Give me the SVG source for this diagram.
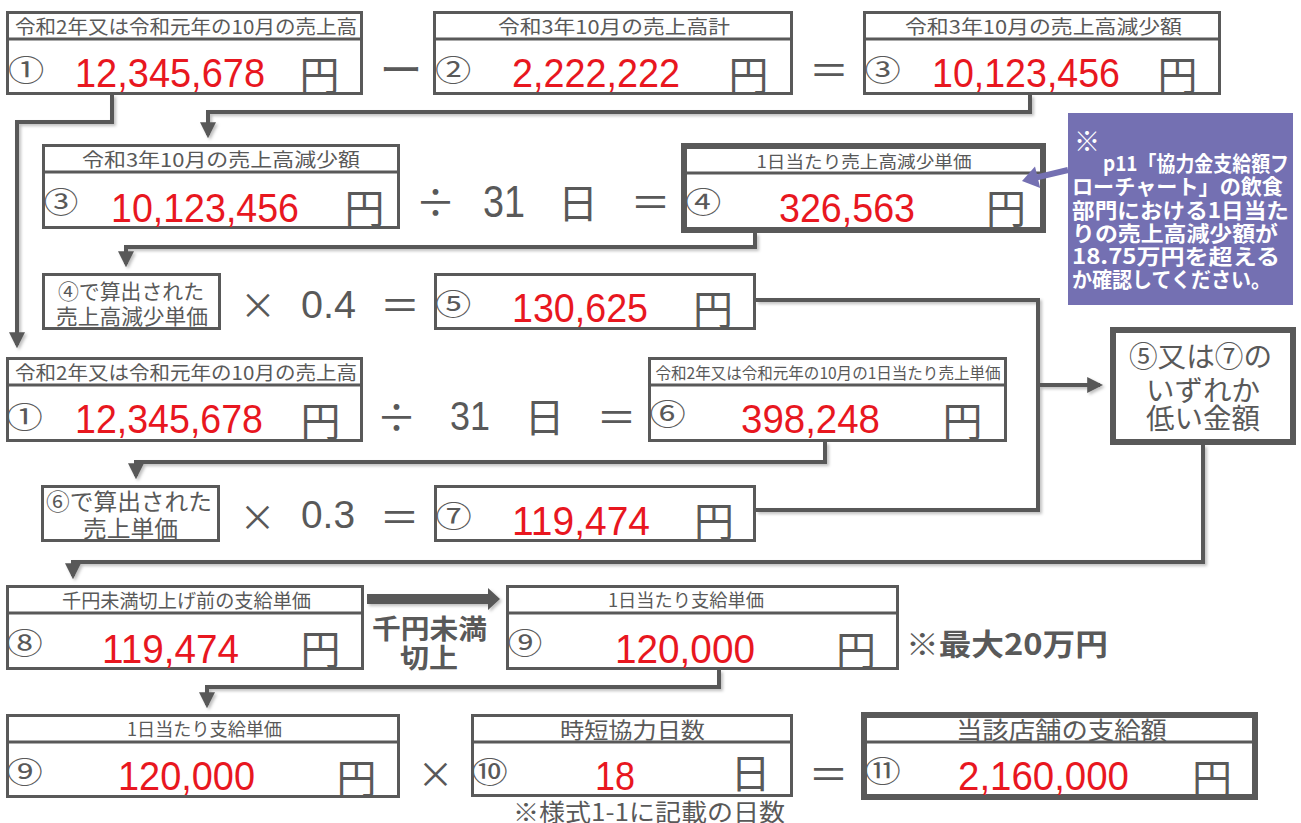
<svg xmlns="http://www.w3.org/2000/svg" width="1301" height="823" viewBox="0 0 1301 823">
<style>
.box{fill:#fff;stroke:#595959;stroke-width:3}
.tbox{fill:#fff;stroke:#595959;stroke-width:6}
.dv{stroke:#595959;stroke-width:3}
.jp{font-family:"Noto Sans CJK JP","Liberation Sans",sans-serif;fill:#595959;text-anchor:middle;dominant-baseline:central}
.hd{font-size:19px}
.circ{font-size:29px}
.yen{font-size:40px}
.op{font-size:40px}
.num{font-family:"Liberation Sans","Noto Sans CJK JP",sans-serif;fill:#E8171F;font-size:41px}
.gnum{font-family:"Liberation Sans","Noto Sans CJK JP",sans-serif;fill:#595959}
.note{font-family:"Noto Sans CJK JP","Liberation Sans",sans-serif;fill:#fff;font-weight:bold;font-size:21px;dominant-baseline:central}
.con{fill:none;stroke:#595959;stroke-width:4}
</style>
<defs>
<marker id="ah" markerWidth="4" markerHeight="4" refX="3.2" refY="2" orient="auto" markerUnits="strokeWidth">
<path d="M0,0 L4,2 L0,4 Z" fill="#595959"/>
</marker>
<filter id="sh" x="-5%" y="-5%" width="110%" height="110%">
<feDropShadow dx="2" dy="2" stdDeviation="1.5" flood-color="#000" flood-opacity="0.25"/>
</filter>
</defs>

<g id="connectors" filter="url(#sh)">
<path class="con" d="M112,95 V122 H17 V345" marker-end="url(#ah)"/>
<path class="con" d="M1030,95 V112 H208 V135" marker-end="url(#ah)"/>
<path class="con" d="M755,233 V247 H126 V264" marker-end="url(#ah)"/>
<path class="con" d="M756,300 H1038 V510 H756"/>
<path class="con" d="M1038,385 H1100" marker-end="url(#ah)"/>
<path class="con" d="M825,442 V462 H136 V476" marker-end="url(#ah)"/>
<path class="con" d="M1203,445 V562 H73 V576" marker-end="url(#ah)"/>
<path class="con" d="M719,670 V687 H207 V705" marker-end="url(#ah)"/>
<path d="M367,594 H488 V588 L500,599 L488,610 V604 H367 Z" fill="#595959"/>
</g>

<g id="n1">
<rect class="box" x="7.5" y="12.5" width="354" height="81"/>
<line class="dv" x1="7.5" y1="39" x2="361.5" y2="39"/>
<text class="jp hd" x="186" y="25" textLength="342" lengthAdjust="spacingAndGlyphs">令和2年又は令和元年の10月の売上高</text>
<text class="jp circ" transform="translate(26,68.5) scale(1.25,1)">①</text>
<text class="num" x="75" y="87" textLength="190" lengthAdjust="spacingAndGlyphs">12,345,678</text>
<text class="jp yen" x="319.5" y="73">円</text>
</g>

<g id="op1"><text class="jp op" x="401" y="67" style="font-size:43px">ー</text></g>

<g id="n2">
<rect class="box" x="434.5" y="12.5" width="357" height="81"/>
<line class="dv" x1="434.5" y1="39" x2="791.5" y2="39"/>
<text class="jp hd" x="614" y="25.5" textLength="232" lengthAdjust="spacingAndGlyphs">令和3年10月の売上高計</text>
<text class="jp circ" transform="translate(453,68) scale(1.25,1)">②</text>
<text class="num" x="512" y="87" textLength="168" lengthAdjust="spacingAndGlyphs">2,222,222</text>
<text class="jp yen" x="748.5" y="73">円</text>
</g>

<g id="op2"><text class="jp op" x="829" y="68">＝</text></g>

<g id="n3">
<rect class="box" x="864.5" y="12.5" width="355" height="81"/>
<line class="dv" x1="864.5" y1="39" x2="1219.5" y2="39"/>
<text class="jp hd" x="1043.5" y="25.5" textLength="277" lengthAdjust="spacingAndGlyphs">令和3年10月の売上高減少額</text>
<text class="jp circ" transform="translate(882.5,68) scale(1.25,1)">③</text>
<text class="num" x="932" y="87" textLength="188" lengthAdjust="spacingAndGlyphs">10,123,456</text>
<text class="jp yen" x="1177.5" y="73">円</text>
</g>

<g id="n3b">
<rect class="box" x="43.5" y="145.5" width="355" height="82"/>
<line class="dv" x1="43.5" y1="172" x2="398.5" y2="172"/>
<text class="jp hd" x="221" y="158.5" textLength="278" lengthAdjust="spacingAndGlyphs">令和3年10月の売上高減少額</text>
<text class="jp circ" transform="translate(61,200) scale(1.2,1)">③</text>
<text class="num" x="111" y="222" textLength="188" lengthAdjust="spacingAndGlyphs">10,123,456</text>
<text class="jp yen" x="364.5" y="206">円</text>
</g>

<g id="op3">
<text class="jp op" x="435.5" y="200">÷</text>
<text class="gnum" x="483" y="217" font-size="44" textLength="42" lengthAdjust="spacingAndGlyphs">31</text>
<text class="jp op" x="578" y="201">日</text>
<text class="jp op" x="650.5" y="200">＝</text>
</g>

<g id="n4">
<rect class="tbox" x="684" y="146" width="359" height="84"/>
<line class="dv" x1="684" y1="173" x2="1043" y2="173"/>
<text class="jp" x="864" y="160.5" font-size="17" textLength="215" lengthAdjust="spacingAndGlyphs">1日当たり売上高減少単価</text>
<text class="jp circ" transform="translate(703,200) scale(1.25,1)">④</text>
<text class="num" x="779" y="222" textLength="136" lengthAdjust="spacingAndGlyphs">326,563</text>
<text class="jp yen" x="1006" y="206">円</text>
</g>

<g id="note">
<rect x="1068" y="113" width="225" height="192" fill="#7470B2"/>
<line x1="1068" y1="170" x2="1036" y2="177.6" stroke="#7470B2" stroke-width="6"/>
<polygon points="1022,181 1040.2,188 1035,166.6" fill="#7470B2"/>
<text class="note" x="1074" y="139" style="font-size:26px">※</text>
<text class="note" x="1103" y="162" textLength="186" lengthAdjust="spacingAndGlyphs">p11「協力金支給額フ</text>
<text class="note" x="1072" y="185" textLength="211" lengthAdjust="spacingAndGlyphs">ローチャート」の飲食</text>
<text class="note" x="1072" y="209" textLength="217" lengthAdjust="spacingAndGlyphs">部門における1日当た</text>
<text class="note" x="1072" y="232" textLength="206" lengthAdjust="spacingAndGlyphs">りの売上高減少額が</text>
<text class="note" x="1072" y="255" textLength="208" lengthAdjust="spacingAndGlyphs">18.75万円を超える</text>
<text class="note" x="1072" y="278" textLength="199" lengthAdjust="spacingAndGlyphs">か確認してください。</text>
</g>

<g id="n4b">
<rect class="box" x="43.5" y="274.5" width="176" height="54"/>
<text class="jp" x="131" y="290" font-size="21" textLength="146" lengthAdjust="spacingAndGlyphs">④で算出された</text>
<text class="jp" x="132" y="315" font-size="21" textLength="152" lengthAdjust="spacingAndGlyphs">売上高減少単価</text>
</g>

<g id="op4">
<text class="jp op" x="258" y="303" style="font-size:36px">×</text>
<text class="gnum" x="301" y="318" font-size="39" textLength="55" lengthAdjust="spacingAndGlyphs">0.4</text>
<text class="jp op" x="400" y="303">＝</text>
</g>

<g id="n5">
<rect class="box" x="435.5" y="274.5" width="319" height="54"/>
<text class="jp circ" transform="translate(453,302) scale(1.25,1)">⑤</text>
<text class="num" x="512" y="322" textLength="136" lengthAdjust="spacingAndGlyphs">130,625</text>
<text class="jp yen" x="713" y="306.5">円</text>
</g>

<g id="n57">
<rect class="tbox" x="1113" y="330" width="180" height="112"/>
<text class="jp" x="1200.5" y="355" font-size="28" textLength="143" lengthAdjust="spacingAndGlyphs">⑤又は⑦の</text>
<text class="jp" x="1203" y="389" font-size="28" textLength="114" lengthAdjust="spacingAndGlyphs">いずれか</text>
<text class="jp" x="1203" y="417" font-size="28" textLength="114" lengthAdjust="spacingAndGlyphs">低い金額</text>
</g>

<g id="n1b">
<rect class="box" x="7.5" y="358.5" width="354" height="82"/>
<line class="dv" x1="7.5" y1="385" x2="361.5" y2="385"/>
<text class="jp hd" x="186" y="371.5" textLength="342" lengthAdjust="spacingAndGlyphs">令和2年又は令和元年の10月の売上高</text>
<text class="jp circ" transform="translate(24.5,415) scale(1.25,1)">①</text>
<text class="num" x="75" y="433" textLength="188" lengthAdjust="spacingAndGlyphs">12,345,678</text>
<text class="jp yen" x="320.5" y="419">円</text>
</g>

<g id="op5">
<text class="jp op" x="396.5" y="415">÷</text>
<text class="gnum" x="450" y="430" font-size="41" textLength="40" lengthAdjust="spacingAndGlyphs">31</text>
<text class="jp op" x="544.5" y="415">日</text>
<text class="jp op" x="616.5" y="415">＝</text>
</g>

<g id="n6">
<rect class="box" x="649.5" y="358.5" width="356" height="82"/>
<line class="dv" x1="649.5" y1="385" x2="1005.5" y2="385"/>
<text class="jp" x="828" y="371.5" font-size="16" textLength="345" lengthAdjust="spacingAndGlyphs">令和2年又は令和元年の10月の1日当たり売上単価</text>
<text class="jp circ" transform="translate(667.5,412) scale(1.25,1)">⑥</text>
<text class="num" x="741" y="433" textLength="139" lengthAdjust="spacingAndGlyphs">398,248</text>
<text class="jp yen" x="962.5" y="419">円</text>
</g>

<g id="n6b">
<rect class="box" x="42.5" y="486.5" width="176" height="54"/>
<text class="jp" x="129" y="500" font-size="23" textLength="166" lengthAdjust="spacingAndGlyphs">⑥で算出された</text>
<text class="jp" x="130.5" y="527" font-size="23" textLength="95" lengthAdjust="spacingAndGlyphs">売上単価</text>
</g>

<g id="op6">
<text class="jp op" x="257.5" y="515" style="font-size:36px">×</text>
<text class="gnum" x="301" y="528" font-size="39" textLength="54" lengthAdjust="spacingAndGlyphs">0.3</text>
<text class="jp op" x="399.5" y="515">＝</text>
</g>

<g id="n7">
<rect class="box" x="435.5" y="486.5" width="319" height="54"/>
<text class="jp circ" transform="translate(453.5,514) scale(1.25,1)">⑦</text>
<text class="num" x="512" y="535" textLength="138" lengthAdjust="spacingAndGlyphs">119,474</text>
<text class="jp yen" x="714" y="519">円</text>
</g>

<g id="n8">
<rect class="box" x="7.5" y="586.5" width="355" height="82"/>
<line class="dv" x1="7.5" y1="613" x2="362.5" y2="613"/>
<text class="jp hd" x="186.5" y="599" textLength="249" lengthAdjust="spacingAndGlyphs">千円未満切上げ前の支給単価</text>
<text class="jp circ" transform="translate(24.5,641) scale(1.25,1)">⑧</text>
<text class="num" x="102" y="663" textLength="137" lengthAdjust="spacingAndGlyphs">119,474</text>
<text class="jp yen" x="320.5" y="647">円</text>
</g>

<g id="roundup">
<text class="jp" x="429.5" y="627" font-size="27" font-weight="bold" textLength="115" lengthAdjust="spacingAndGlyphs">千円未満</text>
<text class="jp" x="429" y="656" font-size="27" font-weight="bold" textLength="58" lengthAdjust="spacingAndGlyphs">切上</text>
</g>

<g id="n9a">
<rect class="box" x="507.5" y="586.5" width="390" height="82"/>
<line class="dv" x1="507.5" y1="613" x2="897.5" y2="613"/>
<text class="jp" x="686" y="599" font-size="18" textLength="156" lengthAdjust="spacingAndGlyphs">1日当たり支給単価</text>
<text class="jp circ" transform="translate(525,641) scale(1.2,1)">⑨</text>
<text class="num" x="615" y="663" textLength="140" lengthAdjust="spacingAndGlyphs">120,000</text>
<text class="jp yen" x="856" y="648">円</text>
</g>

<g id="max"><text class="jp" x="1007" y="642" font-size="30" font-weight="bold" textLength="202" lengthAdjust="spacingAndGlyphs">※最大20万円</text></g>

<g id="n9b">
<rect class="box" x="7.5" y="715.5" width="391" height="81"/>
<line class="dv" x1="7.5" y1="742" x2="398.5" y2="742"/>
<text class="jp" x="204.5" y="728" font-size="18" textLength="155" lengthAdjust="spacingAndGlyphs">1日当たり支給単価</text>
<text class="jp circ" transform="translate(24.5,770) scale(1.25,1)">⑨</text>
<text class="num" x="118" y="790" textLength="137" lengthAdjust="spacingAndGlyphs">120,000</text>
<text class="jp yen" x="356.5" y="776">円</text>
</g>

<g id="op7"><text class="jp op" x="435.5" y="772" style="font-size:36px">×</text></g>

<g id="n10">
<rect class="box" x="472.5" y="715.5" width="319" height="80"/>
<line class="dv" x1="472.5" y1="742" x2="791.5" y2="742"/>
<text class="jp" x="632.5" y="728" font-size="22" textLength="145" lengthAdjust="spacingAndGlyphs">時短協力日数</text>
<text class="jp circ" transform="translate(489.5,770) scale(1.25,1)">⑩</text>
<text class="num" x="595" y="790" textLength="40" lengthAdjust="spacingAndGlyphs">18</text>
<text class="jp yen" x="750.5" y="771">日</text>
</g>

<g id="daysnote"><text class="jp" x="649" y="810" font-size="24" textLength="272" lengthAdjust="spacingAndGlyphs">※様式1-1に記載の日数</text></g>

<g id="op8"><text class="jp op" x="828.5" y="772">＝</text></g>

<g id="n11">
<rect class="tbox" x="864" y="715" width="391" height="82"/>
<line class="dv" x1="864" y1="742" x2="1255" y2="742"/>
<text class="jp" x="1061.5" y="728" font-size="24" textLength="211" lengthAdjust="spacingAndGlyphs">当該店舗の支給額</text>
<text class="jp circ" transform="translate(882.5,769) scale(1.25,1)">⑪</text>
<text class="num" x="958" y="790" textLength="171" lengthAdjust="spacingAndGlyphs">2,160,000</text>
<text class="jp yen" x="1212" y="776">円</text>
</g>
</svg>
